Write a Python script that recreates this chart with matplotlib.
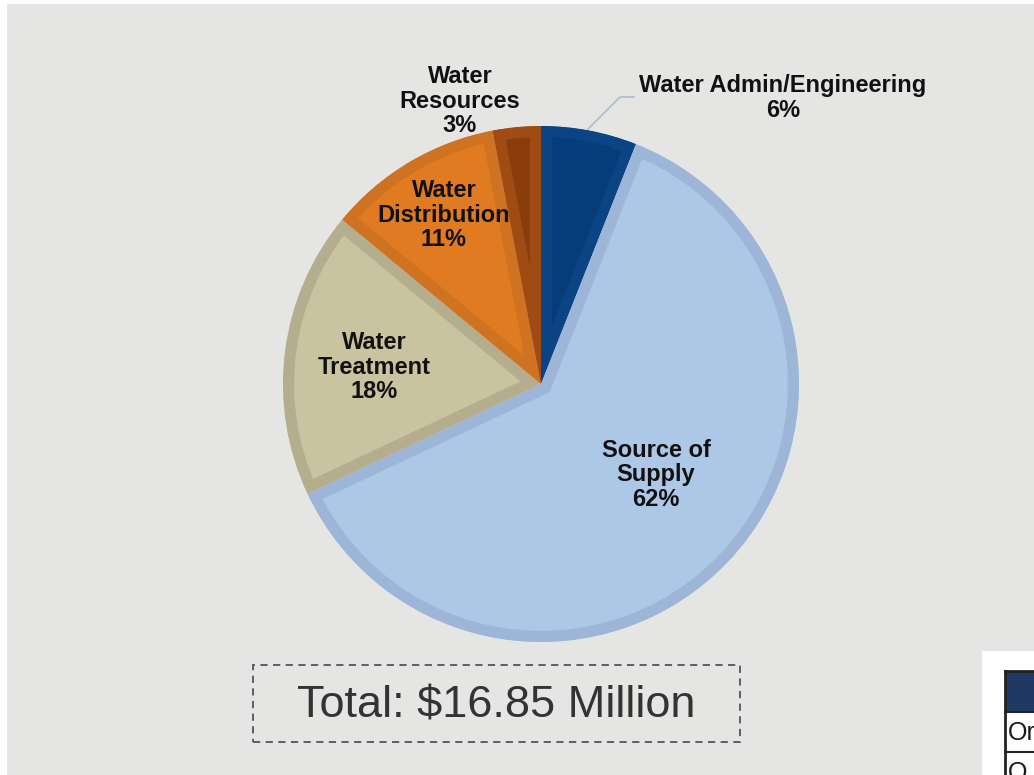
import matplotlib.pyplot as plt
from matplotlib.patches import Rectangle

plt.rcParams['font.family'] = ['Liberation Sans', 'DejaVu Sans']

# Water budget split by division
labels = ['Water Admin/Engineering', 'Source of\nSupply', 'Water\nTreatment',
          'Water\nDistribution', 'Water\nResources']
shares = [6, 62, 18, 11, 3]
fills = ['#053d7b', '#adc8e7', '#c9c3a0', '#e07b22', '#8a3c0b']
edges = ['#0a4484', '#9db5d6', '#b5ae8e', '#cf7221', '#a04b14']
total_text = 'Total: $16.85 Million'

W, H = 1034, 775
fig = plt.figure(figsize=(W / 100, H / 100), dpi=100)
fig.patch.set_facecolor('white')
ax = fig.add_axes([0, 0, 1, 1])

def py(y):
    # pixel row (from top) to data y
    return H - y

# gray slide panel
ax.add_patch(Rectangle((7, 0), W - 7, py(4), facecolor='#e5e5e3', edgecolor='none', zorder=0))

wedges, _ = ax.pie(shares, colors=fills, startangle=90, counterclock=False,
                   center=(541, py(384)), radius=258,
                   wedgeprops=dict(linewidth=16, zorder=2))
# keep only the inner half of each outline so it reads as an inset border
for w, ec in zip(wedges, edges):
    w.set_edgecolor(ec)
    w.set_clip_on(True)
    w.set_clip_path(w)

# leader line for the admin slice
ax.plot([588, 620, 634], [py(129), py(97), py(97)], color='#a9bcd2', lw=1.2, zorder=3)

label_pos = [(783, 98), (656, 475), (374, 367), (444, 215), (460, 101)]
for (x, y), lab, s in zip(label_pos, labels, shares):
    ax.text(x, py(y), f'{lab}\n{s}%', ha='center', va='center', fontsize=17,
            fontweight='bold', linespacing=1.1, color='#111111', zorder=4)

# total box
ax.add_patch(Rectangle((253, py(742)), 487, 77, facecolor='none', edgecolor='#4d5760',
                       lw=1.3, linestyle=(0, (4, 3)), zorder=3))
ax.text(496, py(706), total_text, ha='center', va='center', fontsize=32.5,
        color='#333333', zorder=4)

# edge of the neighbouring table
ax.add_patch(Rectangle((982, 0), 60, py(651), facecolor='white', edgecolor='none', zorder=1))
ax.add_patch(Rectangle((1005, py(712)), 40, 40, facecolor='#1f3864', edgecolor='none', zorder=2))
ax.plot([1005, 1005], [0, py(671)], color='#222222', lw=2, zorder=3)
ax.plot([1005, 1040], [py(671), py(671)], color='#222222', lw=2, zorder=3)
ax.plot([1005, 1040], [py(712), py(712)], color='#222222', lw=1.5, zorder=3)
ax.plot([1005, 1040], [py(752), py(752)], color='#222222', lw=1.5, zorder=3)
ax.text(1008, py(733), 'Or', ha='left', va='center', fontsize=18, color='#1a1a1a', zorder=4)
ax.text(1008, py(773), 'O', ha='left', va='center', fontsize=18, color='#1a1a1a', zorder=4)

ax.set_xlim(0, W)
ax.set_ylim(0, H)
ax.set_aspect('equal')
ax.axis('off')

fig.savefig('out.png', dpi=100)
